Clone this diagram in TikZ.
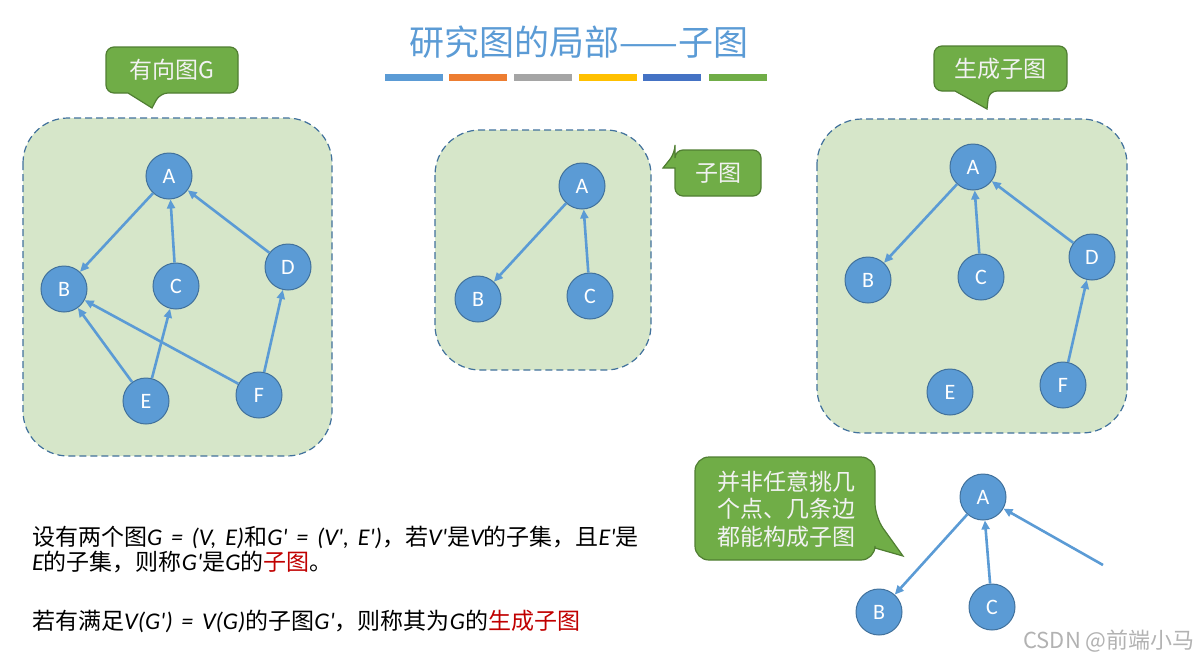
\documentclass[tikz,border=0pt]{standalone}
\usepackage{fontspec}
\setmainfont{Carlito}
\newfontfamily\cjk{Noto Sans CJK SC}
\newfontfamily\ltfont{Carlito}[WordSpace=1.6]
\usetikzlibrary{arrows.meta}
\definecolor{nodeblue}{HTML}{5B9BD5}
\definecolor{nodeline}{HTML}{41719C}
\definecolor{panelgreen}{HTML}{D6E6C9}
\definecolor{tipgreen}{HTML}{70AD47}
\definecolor{tipline}{HTML}{507E32}
\definecolor{keyred}{HTML}{C00000}
\definecolor{barA}{HTML}{5B9BD5}
\definecolor{barB}{HTML}{ED7D31}
\definecolor{barC}{HTML}{A5A5A5}
\definecolor{barD}{HTML}{FFC000}
\definecolor{barE}{HTML}{4472C4}
\definecolor{barF}{HTML}{70AD47}
\newcommand{\lt}[1]{{\ltfont\itshape\fontsize{24}{26}\selectfont #1}}
\newcommand{\pr}{\textquotesingle}

\begin{document}
\begin{tikzpicture}[
        x=1pt, y=-1pt,
        >={Triangle[length=9pt,width=8pt]},
        vertex/.style={
            circle,
            draw=nodeline,
            line width=1pt,
            fill=nodeblue,
            minimum size=46pt,
            inner sep=0pt,
            text=white,
            font=\fontsize{22}{24}\selectfont
        },
        edge/.style={->, draw=nodeblue, line width=2.6pt},
        panel/.style={
            fill=panelgreen,
            draw=nodeline,
            line width=1.2pt,
            dash pattern=on 7pt off 4pt,
            rounded corners=45pt
        },
        bubble/.style={fill=tipgreen, draw=tipline, line width=1.2pt},
        bubbletext/.style={
            text=white!95!black,
            inner sep=0pt,
            align=left,
            font=\cjk\fontsize{23}{28}\selectfont
        },
        body/.style={
            anchor=west,
            inner sep=0pt,
            font=\cjk\fontsize{23}{26}\selectfont
        }
    ]
    \useasboundingbox (0,0) rectangle (1199,662);

    % title and colour bars
    \node[text=nodeblue, font=\cjk\fontsize{35}{40}\selectfont] (title) at (579,42) {研究图的局部——子图};
    \foreach \x/\c in {385/barA, 449/barB, 514/barC, 579/barD, 643/barE, 709/barF}
        \fill[\c] (\x,74) rectangle ++(58,7);

    % directed graph G
    \draw[panel] (23,118) rectangle (332,456);
    \node[vertex] (GA) at (169,176) {A};
    \node[vertex] (GB) at (64,289) {B};
    \node[vertex] (GC) at (176,286) {C};
    \node[vertex] (GD) at (288,267) {D};
    \node[vertex] (GE) at (146,401) {E};
    \node[vertex] (GF) at (259,395) {F};
    \draw[edge] (GA) -- (GB);
    \draw[edge] (GC) -- (GA);
    \draw[edge] (GD) -- (GA);
    \draw[edge] (GE) -- (GB);
    \draw[edge] (GE) -- (GC);
    \draw[edge] (GF) -- (GB);
    \draw[edge] (GF) -- (GD);
    \draw[bubble, rounded corners=8pt] (106,47) -- (238,47) -- (238,93) -- (160,93)
        [sharp corners] -- (152,108) -- (128,93) [rounded corners=8pt] -- (106,93) -- cycle;
    \node[bubbletext] (tipG) at (172,70) {有向图G};

    % subgraph
    \draw[panel] (435,130) rectangle (651,370);
    \node[vertex] (SA) at (582,186) {A};
    \node[vertex] (SB) at (478,299) {B};
    \node[vertex] (SC) at (590,296) {C};
    \draw[edge] (SA) -- (SB);
    \draw[edge] (SC) -- (SA);
    \draw[bubble, rounded corners=8pt] (675,168) -- (675,196) -- (761,196) -- (761,150) -- (675,150)
        -- (675,153) [sharp corners] -- (663,168) -- cycle;
    \node[bubbletext] (tipS) at (718,173) {子图};

    % spanning subgraph
    \draw[panel] (817,119) rectangle (1127,433);
    \node[vertex] (TA) at (973,167) {A};
    \node[vertex] (TB) at (868,280) {B};
    \node[vertex] (TC) at (981,277) {C};
    \node[vertex] (TD) at (1092,257) {D};
    \node[vertex] (TE) at (950,392) {E};
    \node[vertex] (TF) at (1063,385) {F};
    \draw[edge] (TA) -- (TB);
    \draw[edge] (TC) -- (TA);
    \draw[edge] (TD) -- (TA);
    \draw[edge] (TF) -- (TD);
    \draw[bubble, rounded corners=8pt] (934,46) -- (1067,46) -- (1067,91) -- (989,91)
        [sharp corners] -- (987,109) -- (955,91) [rounded corners=8pt] -- (934,91) -- cycle;
    \node[bubbletext] (tipT) at (1000,69) {生成子图};

    % not a subgraph
    \node[vertex] (NA) at (983,497) {A};
    \node[vertex] (NB) at (879,612) {B};
    \node[vertex] (NC) at (992,607) {C};
    \coordinate (ND) at (1103,565);
    \draw[edge] (NA) -- (NB);
    \draw[edge] (NC) -- (NA);
    \draw[edge] (ND) -- (NA);
    \draw[bubble, rounded corners=14pt] (695,457) -- (875,457) -- (875,517)
        [sharp corners] -- (903,556) -- (875,548) [rounded corners=14pt] -- (875,560) -- (695,560) -- cycle;
    \node[bubbletext, font=\cjk\fontsize{23}{27.5}\selectfont] (tipN) at (786,509) {并非任意挑几\\个点、几条边\\都能构成子图};

    % definitions
    \node[body] (def1) at (32,537) {设有两个图\lt{G = (V, E)}和\lt{G\pr{} = (V\pr, E\pr)}，若\lt{V\pr}是\lt{V}的子集，且\lt{E\pr}是};
    \node[body] (def2) at (32,562) {\lt{E}的子集，则称\lt{G\pr}是\lt{G}的\textcolor{keyred}{子图}。};
    \node[body] (def3) at (32,621) {若有满足\lt{V(G\pr) = V(G)}的子图\lt{G\pr}，则称其为\lt{G}的\textcolor{keyred}{生成子图}};

    \node[text=black!30, font=\cjk\fontsize{22}{24}\selectfont] (mark) at (1109,641) {CSDN @前端小马};
\end{tikzpicture}
\end{document}
